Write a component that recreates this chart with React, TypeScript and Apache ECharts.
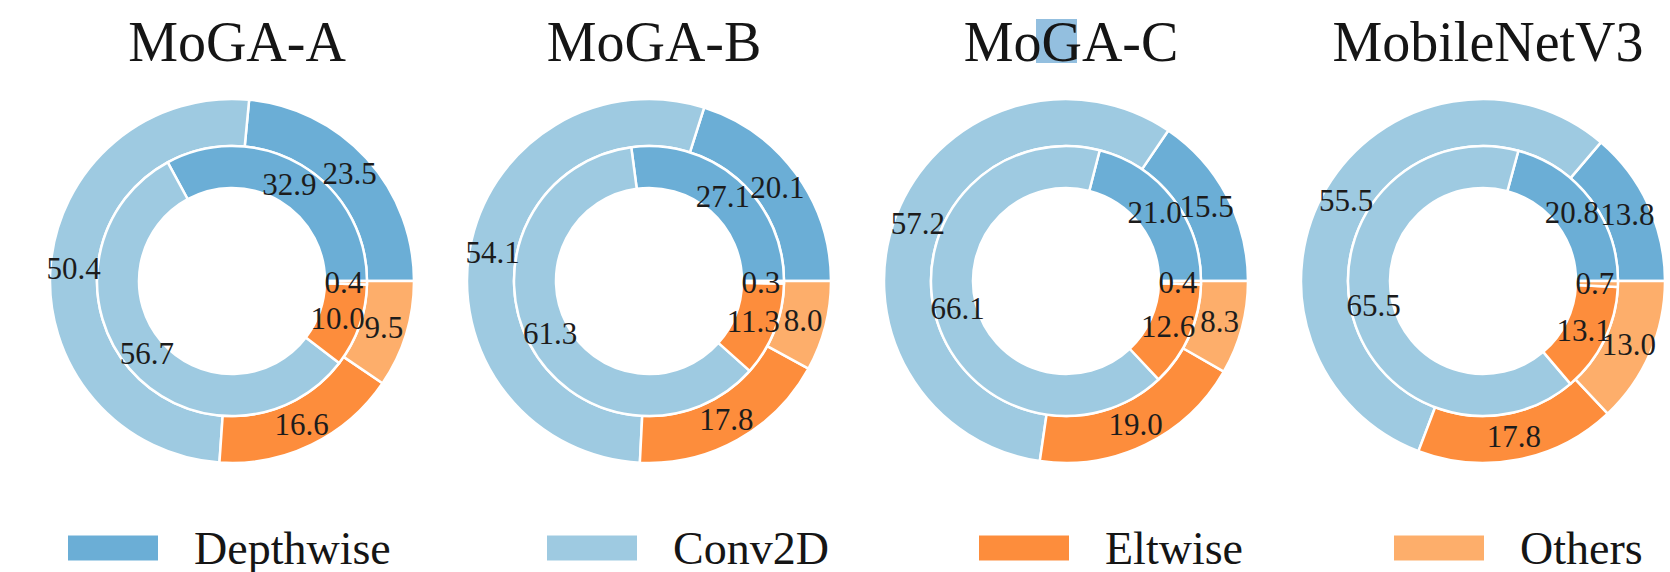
import React, { useEffect, useRef } from "react";
import * as echarts from "echarts";

// Operation types, in the order the wedges run (counter-clockwise from 3 o'clock)
const opTypes = ["Depthwise", "Conv2D", "Eltwise", "Others"];
const opColors = ["#6baed6", "#9ecae1", "#fd8d3c", "#fdae6b"];

const models = ["MoGA-A", "MoGA-B", "MoGA-C", "MobileNetV3"];

// Outer ring: share of each operation type (%)
const outerA = [23.5, 50.4, 16.6, 9.5];
const outerB = [20.1, 54.1, 17.8, 8.0];
const outerC = [15.5, 57.2, 19.0, 8.3];
const outerV3 = [13.8, 55.5, 17.8, 13.0];

// Inner ring: share of each operation type (%)
const innerA = [32.9, 56.7, 10.0, 0.4];
const innerB = [27.1, 61.3, 11.3, 0.3];
const innerC = [21.0, 66.1, 12.6, 0.4];
const innerV3 = [20.8, 65.5, 13.1, 0.7];

const outerValues = [outerA, outerB, outerC, outerV3];
const innerValues = [innerA, innerB, innerC, innerV3];

const W = 1670;
const H = 572;
const centersX = [232, 649, 1066, 1483];
const centerY = 281;
const legendLeft = [61, 540, 972, 1387];

const FONT = "'Liberation Serif', 'Times New Roman', serif";

function baseRing(values: number[], cx: number, radius: [number, number]) {
  return {
    type: "pie",
    center: [cx, centerY],
    radius,
    startAngle: 0,
    clockwise: false,
    silent: true,
    avoidLabelOverlap: false,
    labelLayout: { hideOverlap: false },
    emphasis: { disabled: true },
    labelLine: { show: false },
    data: values.map((v, i) => ({ name: opTypes[i], value: v })),
  };
}

// Coloured wedges, no text
function ringSeries(values: number[], cx: number, radius: [number, number]) {
  return {
    ...baseRing(values, cx, radius),
    itemStyle: { borderColor: "#ffffff", borderWidth: 2.5 },
    label: { show: false },
  };
}

// Percentage labels for a ring, placed at the mid-radius of an invisible ring
function labelSeries(values: number[], cx: number, radius: [number, number]) {
  return {
    ...baseRing(values, cx, radius),
    z: 3,
    itemStyle: { color: "rgba(0,0,0,0)", borderWidth: 0 },
    label: {
      show: true,
      position: "inside",
      formatter: (p: any) => Number(p.value).toFixed(1),
      fontFamily: FONT,
      fontSize: 31,
      color: "#1c1c1c",
    },
  };
}

export default function App() {
  const ref = useRef<HTMLDivElement>(null);

  useEffect(() => {
    if (!ref.current) return;
    const chart = echarts.init(ref.current, null, { renderer: "svg" });

    const series: any[] = [];
    models.forEach((_, m) => {
      series.push(ringSeries(outerValues[m], centersX[m], [135, 182]));
      series.push(ringSeries(innerValues[m], centersX[m], [93, 135]));
    });
    models.forEach((_, m) => {
      series.push(labelSeries(outerValues[m], centersX[m], [131, 181]));
      series.push(labelSeries(innerValues[m], centersX[m], [84, 134]));
    });

    chart.setOption({
      animation: false,
      backgroundColor: "#ffffff",
      color: opColors,
      title: models.map((name, m) => ({
        text: name,
        left: centersX[m],
        top: 9,
        textAlign: "center",
        textStyle: {
          fontFamily: FONT,
          fontWeight: "normal",
          fontSize: 56,
          color: "#151515",
        },
      })),
      legend: opTypes.map((name, i) => ({
        data: [name],
        left: legendLeft[i],
        top: 520,
        icon: "rect",
        itemWidth: 92,
        itemHeight: 27,
        selectedMode: false,
        textStyle: {
          fontFamily: FONT,
          fontSize: 46,
          color: "#151515",
          padding: [0, 0, 0, 30],
        },
      })),
      graphic: [
        {
          type: "rect",
          z: -1,
          shape: { x: 1036, y: 19, width: 41, height: 44 },
          style: { fill: "#93bfdf" },
        },
      ],
      series,
    });

    return () => chart.dispose();
  }, []);

  return (
    <div
      ref={ref}
      style={{ position: "absolute", left: 0, top: 0, width: W, height: H }}
    />
  );
}
